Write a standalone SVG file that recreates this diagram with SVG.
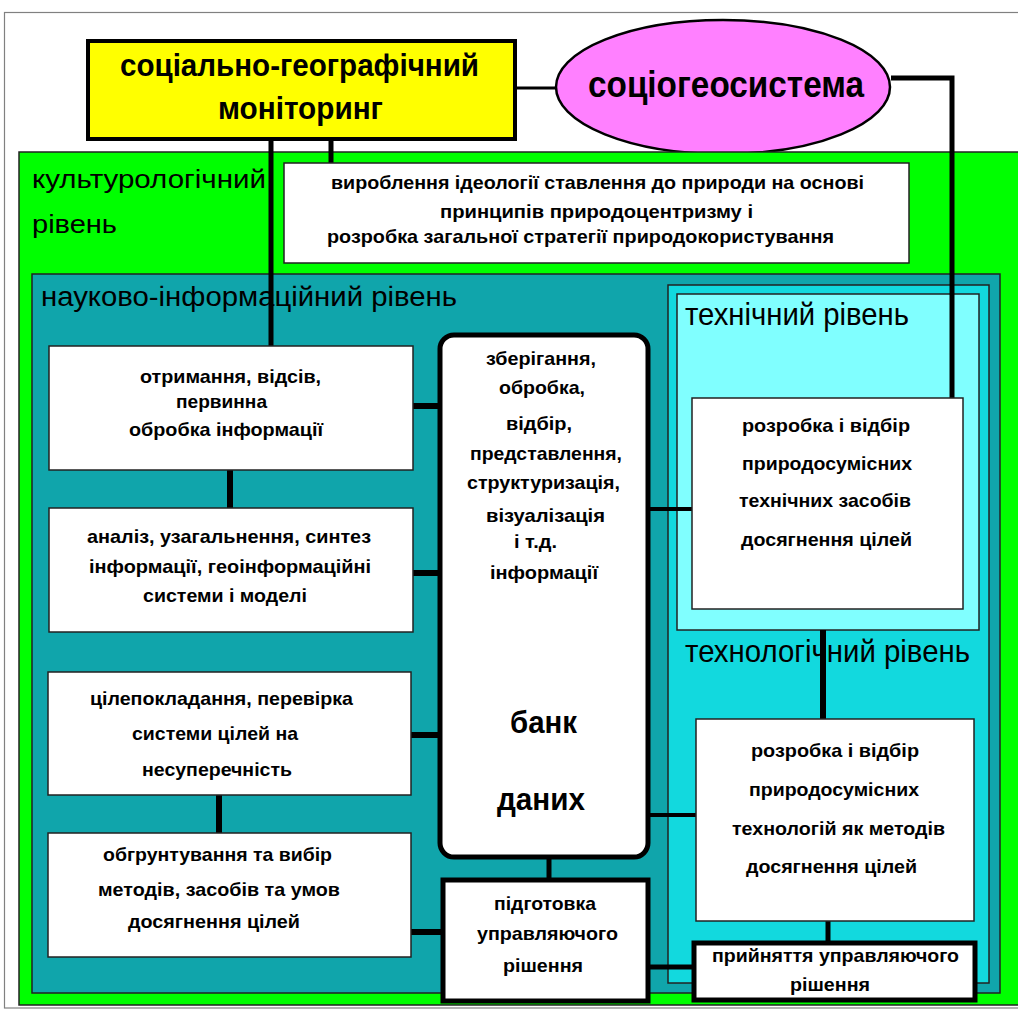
<svg xmlns="http://www.w3.org/2000/svg" width="1018" height="1010" viewBox="0 0 1018 1010">
<style>
.t{font-family:"Liberation Sans",Arial,sans-serif;font-weight:bold;font-size:19px;fill:#000}
.h{font-family:"Liberation Sans",Arial,sans-serif;font-weight:bold;fill:#000}
.big{font-family:"Liberation Sans",Arial,sans-serif;font-weight:normal;fill:#000}
.box{fill:#fff;stroke:#222;stroke-width:1.5}
.thick{fill:#fff;stroke:#000;stroke-width:5}
.c{stroke:#000;fill:none;stroke-linecap:butt}
</style>
<rect x="0" y="0" width="1018" height="1010" fill="#fff"/>
<rect x="4.5" y="12.5" width="1030" height="995.5" fill="none" stroke="#808080" stroke-width="1.2"/>
<g id="sociogeosystem">
<ellipse cx="723" cy="87" rx="167" ry="67" fill="#FF80FF" stroke="#000" stroke-width="2.5"/>
<text class="h" x="588" y="97" font-size="37" textLength="276" lengthAdjust="spacingAndGlyphs">соціогеосистема</text>
</g>
<g id="cultural-level">
<rect x="19" y="152" width="1010" height="853" fill="#00FF00" stroke="#222" stroke-width="1.5"/>
<text class="big" x="32" y="188" font-size="26" textLength="234" lengthAdjust="spacingAndGlyphs">культурологічний</text>
<text class="big" x="32" y="233" font-size="26" textLength="85" lengthAdjust="spacingAndGlyphs">рівень</text>
</g>
<g id="scientific-level">
<rect x="32" y="274" width="968" height="719" fill="#10A5AB" stroke="#222" stroke-width="1.5"/>
<text class="big" x="41" y="306" font-size="27" textLength="416" lengthAdjust="spacingAndGlyphs">науково-інформаційний рівень</text>
</g>
<g id="technological-level">
<rect x="668" y="285" width="321" height="698" fill="#12D9DE" stroke="#222" stroke-width="1.5"/>
<text class="big" x="685" y="662" font-size="32" textLength="285" lengthAdjust="spacingAndGlyphs">технологічний рівень</text>
</g>
<g id="technical-level">
<rect x="677" y="294" width="302" height="336" fill="#80FFFF" stroke="#222" stroke-width="1.5"/>
<text class="big" x="685" y="325" font-size="32" textLength="224" lengthAdjust="spacingAndGlyphs">технічний рівень</text>
</g>
<g id="connectors">
<line class="c" x1="515" y1="88" x2="556" y2="88" stroke-width="3"/>
<path class="c" d="M891,78 H952 V398" stroke-width="5"/>
<line class="c" x1="331" y1="139" x2="331" y2="163" stroke-width="5"/>
<line class="c" x1="271" y1="139" x2="271" y2="346" stroke-width="5"/>
<line class="c" x1="230" y1="470" x2="230" y2="508" stroke-width="6"/>
<line class="c" x1="219" y1="795" x2="219" y2="833" stroke-width="6"/>
<line class="c" x1="413" y1="406" x2="440" y2="406" stroke-width="6"/>
<line class="c" x1="413" y1="573" x2="440" y2="573" stroke-width="6"/>
<line class="c" x1="411" y1="735" x2="440" y2="735" stroke-width="6"/>
<line class="c" x1="411" y1="932" x2="443" y2="932" stroke-width="6"/>
<line class="c" x1="549" y1="857" x2="549" y2="880" stroke-width="5"/>
<line class="c" x1="648" y1="509" x2="692" y2="509" stroke-width="4"/>
<line class="c" x1="648" y1="815" x2="696" y2="815" stroke-width="4"/>
<line class="c" x1="823" y1="630" x2="823" y2="719" stroke-width="6"/>
<line class="c" x1="828" y1="921" x2="828" y2="943" stroke-width="5"/>
<line class="c" x1="648" y1="967" x2="694" y2="967" stroke-width="5"/>
</g>
<g id="monitoring">
<rect x="88" y="41" width="427" height="98" fill="#FFFF00" stroke="#000" stroke-width="4"/>
<text class="h" x="120" y="76" font-size="32" textLength="359" lengthAdjust="spacingAndGlyphs">соціально-географічний</text>
<text class="h" x="218" y="119" font-size="32" textLength="165" lengthAdjust="spacingAndGlyphs">моніторинг</text>
</g>
<g id="ideology">
<rect class="box" x="284" y="163" width="625" height="100"/>
<text class="t" x="331" y="189" textLength="533" lengthAdjust="spacingAndGlyphs">вироблення ідеології ставлення до природи на основі</text>
<text class="t" x="440" y="218" textLength="313" lengthAdjust="spacingAndGlyphs">принципів  природоцентризму і</text>
<text class="t" x="327" y="243" textLength="507" lengthAdjust="spacingAndGlyphs">розробка загальної стратегії  природокористування</text>
</g>
<g id="acquisition">
<rect class="box" x="49" y="346" width="364" height="124"/>
<text class="t" x="140" y="383" textLength="181" lengthAdjust="spacingAndGlyphs">отримання, відсів,</text>
<text class="t" x="176" y="408" textLength="91" lengthAdjust="spacingAndGlyphs">первинна</text>
<text class="t" x="129" y="436" textLength="194" lengthAdjust="spacingAndGlyphs">обробка інформації</text>
</g>
<g id="analysis">
<rect class="box" x="49" y="508" width="364" height="124"/>
<text class="t" x="87" y="543" textLength="284" lengthAdjust="spacingAndGlyphs">аналіз, узагальнення, синтез</text>
<text class="t" x="89" y="573" textLength="282" lengthAdjust="spacingAndGlyphs">інформації, геоінформаційні</text>
<text class="t" x="143" y="602" textLength="164" lengthAdjust="spacingAndGlyphs">системи і моделі</text>
</g>
<g id="goals">
<rect class="box" x="48" y="672" width="363" height="123"/>
<text class="t" x="90" y="705" textLength="263" lengthAdjust="spacingAndGlyphs">цілепокладання, перевірка</text>
<text class="t" x="132" y="740" textLength="166" lengthAdjust="spacingAndGlyphs">системи цілей на</text>
<text class="t" x="142" y="776" textLength="150" lengthAdjust="spacingAndGlyphs">несуперечність</text>
</g>
<g id="methods">
<rect class="box" x="48" y="833" width="363" height="124"/>
<text class="t" x="103" y="861" textLength="229" lengthAdjust="spacingAndGlyphs">обгрунтування та вибір</text>
<text class="t" x="98" y="896" textLength="242" lengthAdjust="spacingAndGlyphs">методів, засобів та умов</text>
<text class="t" x="128" y="928" textLength="172" lengthAdjust="spacingAndGlyphs">досягнення цілей</text>
</g>
<g id="data-bank">
<rect class="thick" x="440" y="335" width="208" height="522" rx="14"/>
<text class="t" x="486" y="365" textLength="110" lengthAdjust="spacingAndGlyphs">зберігання,</text>
<text class="t" x="499" y="394" textLength="86" lengthAdjust="spacingAndGlyphs">обробка,</text>
<text class="t" x="506" y="430" textLength="66" lengthAdjust="spacingAndGlyphs">відбір,</text>
<text class="t" x="470" y="460" textLength="152" lengthAdjust="spacingAndGlyphs">представлення,</text>
<text class="t" x="467" y="489" textLength="153" lengthAdjust="spacingAndGlyphs">структуризація,</text>
<text class="t" x="486" y="522" textLength="119" lengthAdjust="spacingAndGlyphs">візуалізація</text>
<text class="t" x="514" y="548" textLength="43" lengthAdjust="spacingAndGlyphs">і т.д.</text>
<text class="t" x="490" y="579" textLength="108" lengthAdjust="spacingAndGlyphs">інформації</text>
<text class="h" x="510" y="733" font-size="31" textLength="67" lengthAdjust="spacingAndGlyphs">банк</text>
<text class="h" x="497" y="810" font-size="31" textLength="88" lengthAdjust="spacingAndGlyphs">даних</text>
</g>
<g id="prepare-decision">
<rect class="thick" x="443" y="880" width="205" height="121"/>
<text class="t" x="494" y="910" textLength="102" lengthAdjust="spacingAndGlyphs">підготовка</text>
<text class="t" x="477" y="940" textLength="141" lengthAdjust="spacingAndGlyphs">управляючого</text>
<text class="t" x="503" y="972" textLength="80" lengthAdjust="spacingAndGlyphs">рішення</text>
</g>
<g id="technical-means">
<rect class="box" x="692" y="398" width="271" height="211"/>
<text class="t" x="742" y="432" textLength="168" lengthAdjust="spacingAndGlyphs">розробка і відбір</text>
<text class="t" x="742" y="470" textLength="170" lengthAdjust="spacingAndGlyphs">природосумісних</text>
<text class="t" x="739" y="507" textLength="172" lengthAdjust="spacingAndGlyphs">технічних засобів</text>
<text class="t" x="741" y="546" textLength="171" lengthAdjust="spacingAndGlyphs">досягнення цілей</text>
</g>
<g id="technologies">
<rect class="box" x="696" y="719" width="278" height="202"/>
<text class="t" x="751" y="757" textLength="168" lengthAdjust="spacingAndGlyphs">розробка і відбір</text>
<text class="t" x="749" y="796" textLength="170" lengthAdjust="spacingAndGlyphs">природосумісних</text>
<text class="t" x="732" y="835" textLength="213" lengthAdjust="spacingAndGlyphs">технологій як методів</text>
<text class="t" x="746" y="873" textLength="171" lengthAdjust="spacingAndGlyphs">досягнення цілей</text>
</g>
<g id="adopt-decision">
<rect class="thick" x="694" y="943" width="281" height="57"/>
<text class="t" x="712" y="962" textLength="247" lengthAdjust="spacingAndGlyphs">прийняття управляючого</text>
<text class="t" x="790" y="991" textLength="80" lengthAdjust="spacingAndGlyphs">рішення</text>
</g>
</svg>
